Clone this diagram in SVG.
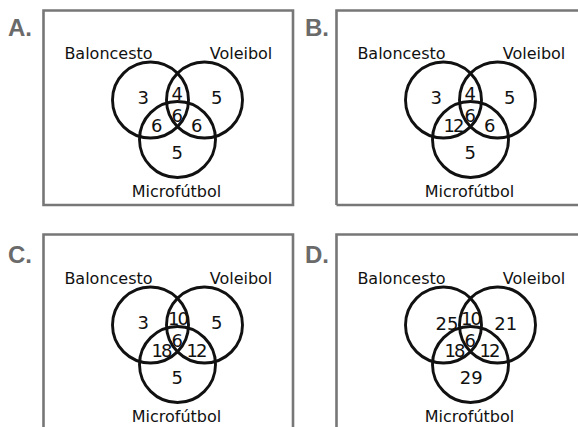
<svg xmlns="http://www.w3.org/2000/svg" width="578" height="427" viewBox="0 0 578 427">
  <style>
    .frame { fill: none; stroke: #777; stroke-width: 2.6; }
    .tag { font-family: "Liberation Sans", Arial, sans-serif; font-weight: bold; font-size: 24px; fill: #6a6a6a; }
    .set { fill: none; stroke: #111; stroke-width: 2.9; }
    .name { font-family: "DejaVu Sans", sans-serif; font-size: 16px; fill: #111; text-anchor: middle; }
    .num { font-family: "DejaVu Sans", sans-serif; font-size: 18px; fill: #111; text-anchor: middle; }
    .lens { letter-spacing: -2px; }
  </style>
  <defs>
    <!-- three overlapping sets with their names -->
    <g id="venn">
      <circle class="set" cx="150.5" cy="100" r="38"/>
      <circle class="set" cx="204.5" cy="100" r="38"/>
      <circle class="set" cx="177.5" cy="139.5" r="38"/>
      <text class="name" x="108.5" y="59">Baloncesto</text>
      <text class="name" x="241" y="59">Voleibol</text>
      <text class="name" x="176.5" y="197">Microfútbol</text>
    </g>
  </defs>

  <!-- option frames -->
  <g id="frames">
    <path class="frame" d="M43.5 205 V10.5 H293 V205 Z"/>
    <path class="frame" d="M336.5 205 V10.5 H580 M336.5 205 H580"/>
    <path class="frame" d="M43.5 430 V234.5 H293 V430"/>
    <path class="frame" d="M336.5 430 V234.5 H580"/>
  </g>

  <g id="option-a">
    <text class="tag" x="8" y="36">A.</text>
    <use href="#venn"/>
    <text class="num" x="143.3" y="104.3">3</text>
    <text class="num" x="177.3" y="100">4</text>
    <text class="num" x="216.7" y="104.3">5</text>
    <text class="num" x="156.7" y="131.7">6</text>
    <text class="num" x="177.3" y="121.7">6</text>
    <text class="num" x="196.7" y="131.7">6</text>
    <text class="num" x="177.3" y="159">5</text>
  </g>

  <g id="option-b" transform="translate(293 0)">
    <text class="tag" x="12" y="36">B.</text>
    <use href="#venn"/>
    <text class="num" x="143.3" y="104.3">3</text>
    <text class="num" x="177.3" y="100">4</text>
    <text class="num" x="216.7" y="104.3">5</text>
    <text class="num lens" x="160" y="131.7">12</text>
    <text class="num" x="177.3" y="121.7">6</text>
    <text class="num" x="196.7" y="131.7">6</text>
    <text class="num" x="177.3" y="159">5</text>
  </g>

  <g id="option-c" transform="translate(0 225)">
    <text class="tag" x="8" y="38">C.</text>
    <use href="#venn"/>
    <text class="num" x="143.3" y="104.3">3</text>
    <text class="num lens" x="177.5" y="100">10</text>
    <text class="num" x="216.7" y="104.3">5</text>
    <text class="num lens" x="161" y="131.7">18</text>
    <text class="num" x="177.3" y="121.7">6</text>
    <text class="num lens" x="196" y="131.7">12</text>
    <text class="num" x="177.3" y="159">5</text>
  </g>

  <g id="option-d" transform="translate(293 225)">
    <text class="tag" x="12" y="38">D.</text>
    <use href="#venn"/>
    <text class="num" x="154" y="105">25</text>
    <text class="num lens" x="177.5" y="100">10</text>
    <text class="num" x="212.7" y="105">21</text>
    <text class="num lens" x="161" y="131.7">18</text>
    <text class="num" x="177.3" y="121.7">6</text>
    <text class="num lens" x="196" y="131.7">12</text>
    <text class="num" x="178.3" y="159">29</text>
  </g>
</svg>
